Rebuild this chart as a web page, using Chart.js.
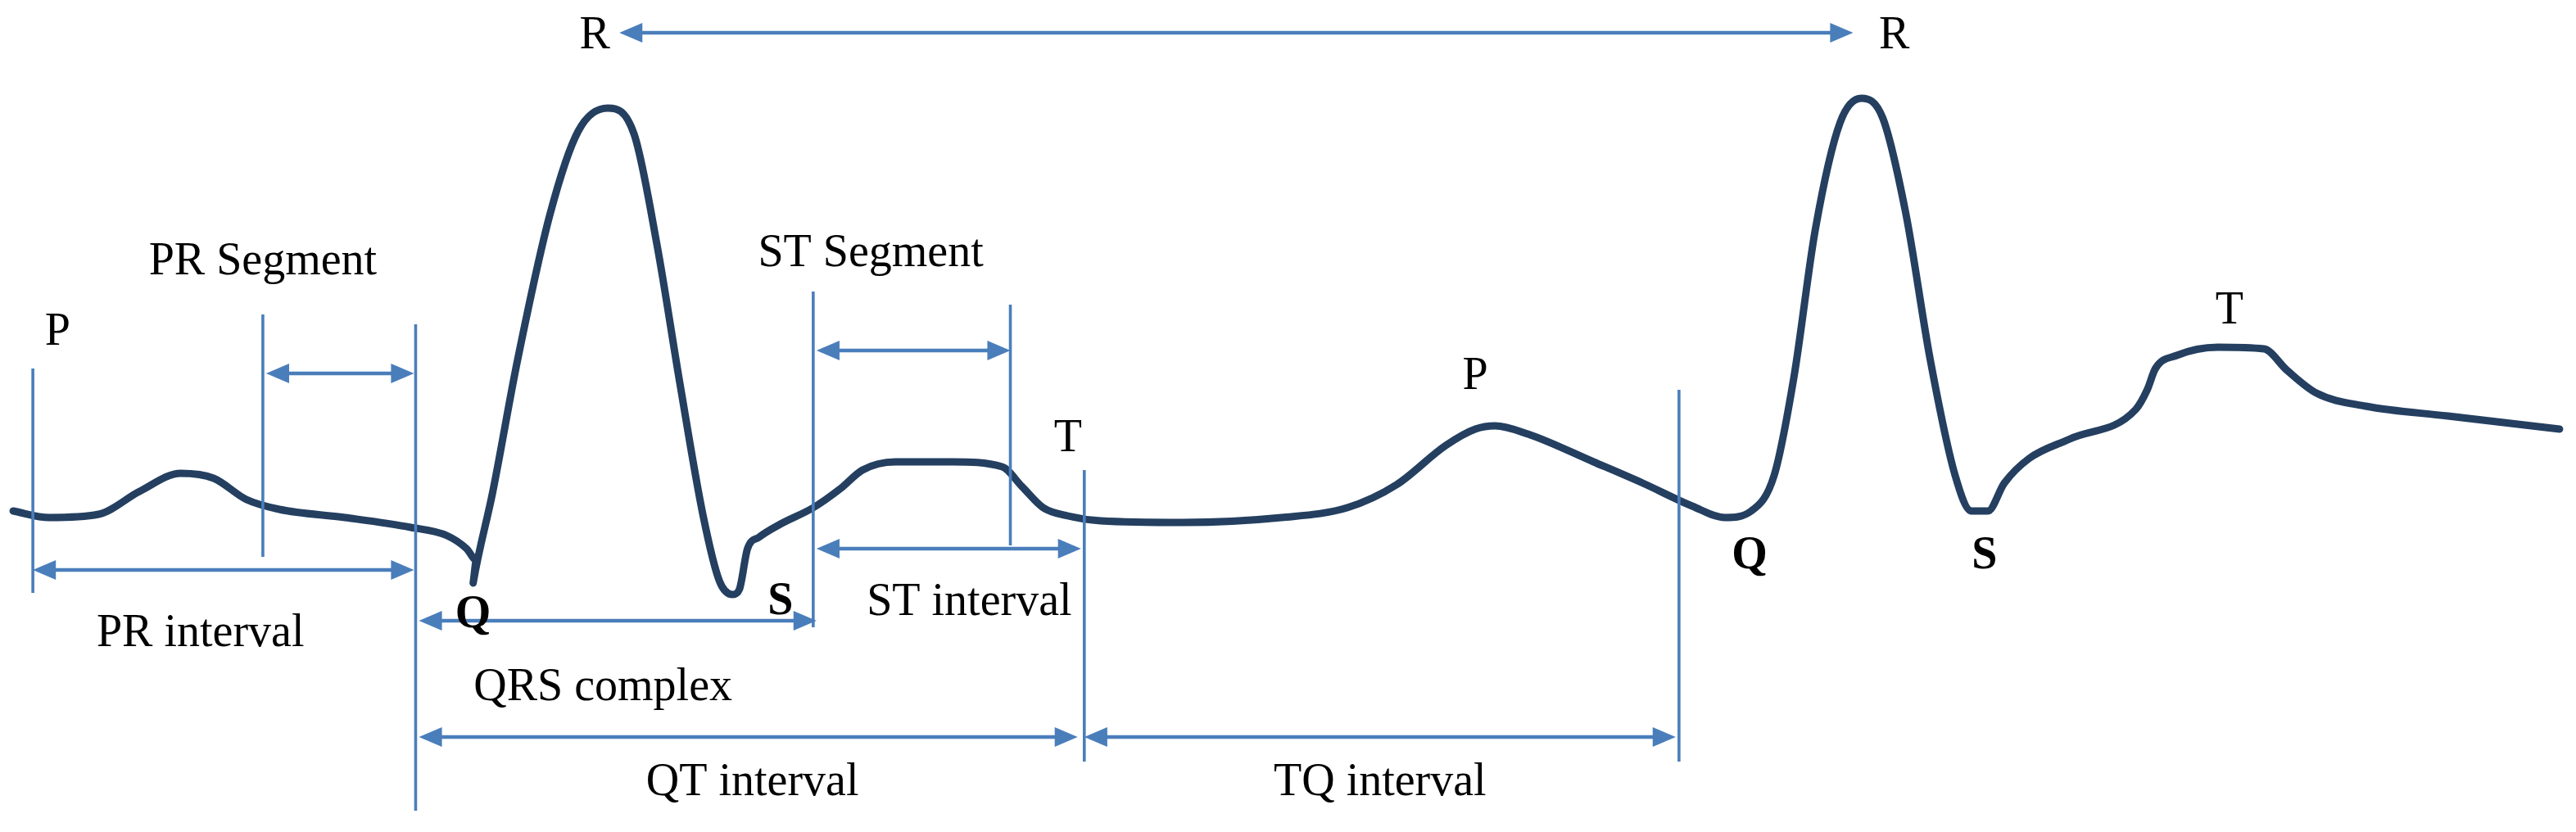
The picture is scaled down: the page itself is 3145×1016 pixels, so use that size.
<!DOCTYPE html>
<html><head><meta charset="utf-8">
<script src="https://cdn.jsdelivr.net/npm/chart.js@4"></script>
<style>html,body{margin:0;padding:0;background:#fff}#w{width:3145px;height:1016px}</style>
</head><body><div id="w"><canvas id="c"></canvas></div>
<script>
// ECG trace (x, y in reference units; y grows downward)
const ecgX = [8,30,60,85,110,130,150,170,210,250,272,284,290,288,300,315,335,352,370,386,400,414,428,438,446,450,455,462,475,495,512,525,545,580,610,622,635,650,670,720,780,820,850,880,898,910,930,970,1000,1030,1050,1066,1080,1092,1105,1120,1133,1146,1160,1175,1190,1200,1210,1220,1235,1260,1300,1307,1312,1325,1350,1378,1392,1410,1440,1490,1558];
const ecgY = [312,316,314,300,289,292,305,311,316,322,327,335,342,356,300,220,130,80,66,82,150,235,315,355,363,360,335,328,320,310,298,287,282,282,285,297,310,315,318,319,316,310,296,272,262,260,265,282,295,309,316,312,290,230,140,75,60,72,130,220,290,312,312,295,280,268,250,238,225,217,212,213,226,240,248,254,262];
const vLines = [[20,225,362],[160,192,340],[253,198,495],[495,178,383],[615,186,333],[660,287,465],[1022,238,465]];
const arrows = [[20,252,348],[162,252,228],[497,615,214],[497,658,335],[255,497,379],[255,656,450],[660,1020,450],[377,1128,20]];
const labels = [["P",35,203,false],["PR Segment",160,160,false],["ST Segment",530,155,false],["T",650,268,false],["P",898,230,false],["T",1357,190,false],["R",362,22,false],["R",1153,22,false],["Q",288,376,true],["S",475,368,true],["ST interval",590,368,false],["PR interval",122,387,false],["QRS complex",367,420,false],["QT interval",458,478,false],["TQ interval",840,478,false],["Q",1065,340,true],["S",1208,340,true]];

const blue = '#4a7ebb';
const annot = {
  id:'annot',
  afterDatasetsDraw(chart){
    const c = chart.ctx, xs = chart.scales.x, ys = chart.scales.y;
    const k = (xs.getPixelForValue(100)-xs.getPixelForValue(0))/100;
    c.save();
    c.strokeStyle = blue; c.fillStyle = blue; c.lineWidth = 1.8*k;
    vLines.forEach(([x,a,b])=>{c.beginPath();c.moveTo(xs.getPixelForValue(x),ys.getPixelForValue(a));c.lineTo(xs.getPixelForValue(x),ys.getPixelForValue(b));c.stroke();});
    const head=(x,y,d)=>{c.beginPath();c.moveTo(x,y);c.lineTo(x+d*14*k,y-6*k);c.lineTo(x+d*14*k,y+6*k);c.closePath();c.fill();};
    arrows.forEach(([a,b,y])=>{
      const x1=xs.getPixelForValue(a),x2=xs.getPixelForValue(b),py=ys.getPixelForValue(y);
      c.lineWidth=2.2*k;c.beginPath();c.moveTo(x1+10*k,py);c.lineTo(x2-10*k,py);c.stroke();
      head(x1,py,1);head(x2,py,-1);
    });
    c.fillStyle='#000';c.textAlign='center';c.textBaseline='middle';
    labels.forEach(([t,x,y,b])=>{c.font=(b?'bold ':'')+Math.round(28*k)+'px "Liberation Serif"';c.fillText(t,xs.getPixelForValue(x),ys.getPixelForValue(y));});
    c.restore();
  }
};
new Chart(document.getElementById('c'),{
  type:'line',
  data:{datasets:[{data:ecgX.map((x,i)=>({x,y:ecgY[i]})),borderColor:'#243f60',borderWidth:9,pointRadius:0,tension:0.4,cubicInterpolationMode:'monotone',fill:false,borderCapStyle:'round',borderJoinStyle:'round'}]},
  options:{responsive:true,maintainAspectRatio:false,animation:false,
    layout:{padding:0},
    plugins:{legend:{display:false},tooltip:{enabled:false}},
    scales:{x:{type:'linear',min:0,max:1568,display:false},y:{min:0,max:508,reverse:true,display:false}}},
  plugins:[annot]
});
</script></body></html>
